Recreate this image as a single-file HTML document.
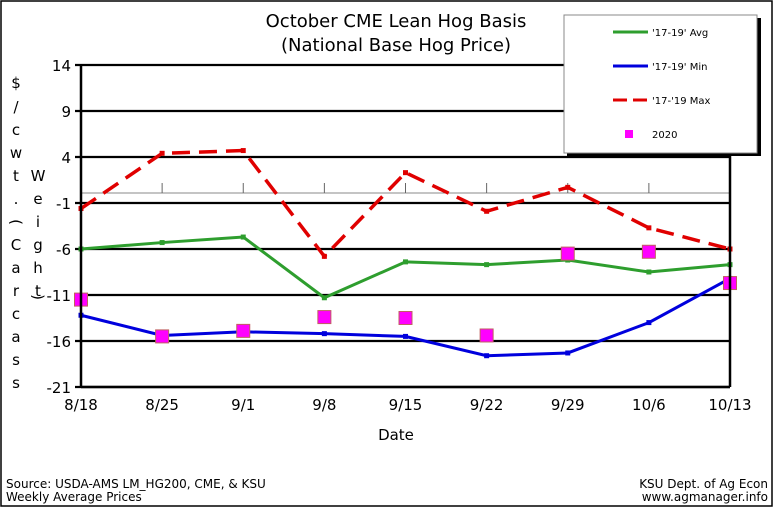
<!DOCTYPE html>
<html><head><meta charset="utf-8"><style>
body{margin:0;background:#fff;}
svg{display:block;font-family:"DejaVu Sans","Liberation Sans",sans-serif;}
</style></head><body>
<svg id="chart" width="773" height="507" viewBox="0 0 773 507" xmlns="http://www.w3.org/2000/svg">
<rect x="1" y="1" width="771" height="505" fill="#fff" stroke="#000" stroke-width="1.5"/>
<text x="396" y="27" font-size="18" text-anchor="middle">October CME Lean Hog Basis</text>
<text x="396" y="51" font-size="18" text-anchor="middle">(National Base Hog Price)</text>
<g id="grid"></g>
<g id="series"></g>
<g id="axes"></g>
<text x="396" y="440" font-size="15" text-anchor="middle">Date</text>
<g font-size="15" text-anchor="middle">
<text x="16" y="88">$</text><text x="16" y="112">/</text><text x="16" y="135">c</text><text x="16" y="158">w</text><text x="16" y="181">t</text><text x="16" y="204">.</text><text x="16" y="227" transform="rotate(90 16 222)">(</text><text x="16" y="250">C</text><text x="16" y="273">a</text><text x="16" y="296">r</text><text x="16" y="319">c</text><text x="16" y="342">a</text><text x="16" y="365">s</text><text x="16" y="388">s</text>
<text x="38" y="181">W</text><text x="38" y="204">e</text><text x="38" y="227">i</text><text x="38" y="250">g</text><text x="38" y="273">h</text><text x="38" y="296">t</text><text x="38" y="302" transform="rotate(90 38 297)">)</text>
</g>
<g>
<rect x="567" y="18" width="194" height="138" fill="#000"/>
<rect x="564" y="15" width="193" height="138" fill="#fff" stroke="#888" stroke-width="1"/>
<line x1="613" y1="32" x2="648" y2="32" stroke="#2e9e2e" stroke-width="3"/><text x="652" y="36" font-size="10">'17-19' Avg</text>
<line x1="613" y1="66" x2="648" y2="66" stroke="#0000dd" stroke-width="3"/><text x="652" y="70" font-size="10">'17-19' Min</text>
<line x1="613" y1="100" x2="648" y2="100" stroke="#e00000" stroke-width="3" stroke-dasharray="14,6"/><text x="652" y="104" font-size="10">'17-'19 Max</text>
<rect x="625" y="130" width="8" height="8" fill="#ff00ff"/><text x="652" y="138" font-size="10">2020</text>
</g>
<text x="6" y="488" font-size="12">Source:  USDA-AMS LM_HG200, CME, &amp; KSU</text>
<text x="6" y="501" font-size="12">Weekly Average Prices</text>
<text x="768" y="488" font-size="12" text-anchor="end">KSU Dept. of Ag Econ</text>
<text x="768" y="501" font-size="12" text-anchor="end">www.agmanager.info</text>
</svg>
<script>
const categories=["8/18","8/25","9/1","9/8","9/15","9/22","9/29","10/6","10/13"];
const avgValues=[-6,-5.3,-4.7,-11.3,-7.4,-7.7,-7.2,-8.5,-7.7];
const minValues=[-13.2,-15.4,-15.0,-15.2,-15.5,-17.6,-17.3,-14.0,-9.2];
const maxValues=[-1.6,4.4,4.7,-6.8,2.3,-1.9,0.7,-3.7,-6.0];
const y2020Values=[-11.5,-15.5,-14.9,-13.4,-13.5,-15.4,-6.5,-6.3,-9.7];
const yTicks=[14,9,4,-1,-6,-11,-16,-21];
const NS="http://www.w3.org/2000/svg";
const L=81,R=730,T=65,B=387,yMax=14,yMin=-21;
const x=i=>L+i*(R-L)/(categories.length-1);
const y=v=>T+(yMax-v)*(B-T)/(yMax-yMin);
function mk(tag,attrs,parent){const e=document.createElementNS(NS,tag);for(const k in attrs)e.setAttribute(k,attrs[k]);parent.appendChild(e);return e;}
const grid=document.getElementById('grid'),axes=document.getElementById('axes'),ser=document.getElementById('series');
mk('rect',{x:L,y:T,width:R-L,height:B-T,fill:'#fff'},grid);
yTicks.forEach(t=>{const g=mk('line',{x1:L-6,x2:R,y1:y(t),y2:y(t),stroke:'#000','stroke-width':2.2},grid);

const tx=mk('text',{x:L-10,y:y(t)+6,'font-size':15,'text-anchor':'end'},axes);tx.textContent=t;
});
// secondary gray axis line with ticks
const gy=y(-1)-10;
mk('line',{x1:L,x2:R,y1:gy,y2:gy,stroke:'#888','stroke-width':1},grid);
categories.forEach((c,i)=>{mk('line',{x1:x(i),x2:x(i),y1:gy-10,y2:gy,stroke:'#666','stroke-width':1},grid);
const tx=mk('text',{x:x(i),y:B+23,'font-size':15,'text-anchor':'middle'},axes);tx.textContent=c;
});
mk('line',{x1:L,x2:L,y1:T,y2:B,stroke:'#000','stroke-width':2.5},axes);
mk('line',{x1:R,x2:R,y1:T,y2:B,stroke:'#000','stroke-width':2.5},axes);
mk('line',{x1:L,x2:R,y1:B,y2:B,stroke:'#000','stroke-width':2.5},axes);
function line(vals,color,dash,name){const p=mk('polyline',{points:vals.map((v,i)=>x(i)+','+y(v)).join(' '),fill:'none',stroke:color,'stroke-width':dash?3.5:3,'stroke-dasharray':dash||'none'},ser);

vals.forEach((v,i)=>mk('rect',{x:x(i)-2.5,y:y(v)-2.5,width:5,height:5,fill:color},ser));}
line(maxValues,'#e00000','18,9','max-line');
line(avgValues,'#2e9e2e',null,'avg-line');
line(minValues,'#0000dd',null,'min-line');
y2020Values.forEach((v,i)=>{const r=mk('rect',{x:x(i)-6.5,y:y(v)-6.5,width:13,height:13,fill:'#ff00ff',stroke:'#c06060','stroke-width':1},ser);
});
</script>
</body></html>
